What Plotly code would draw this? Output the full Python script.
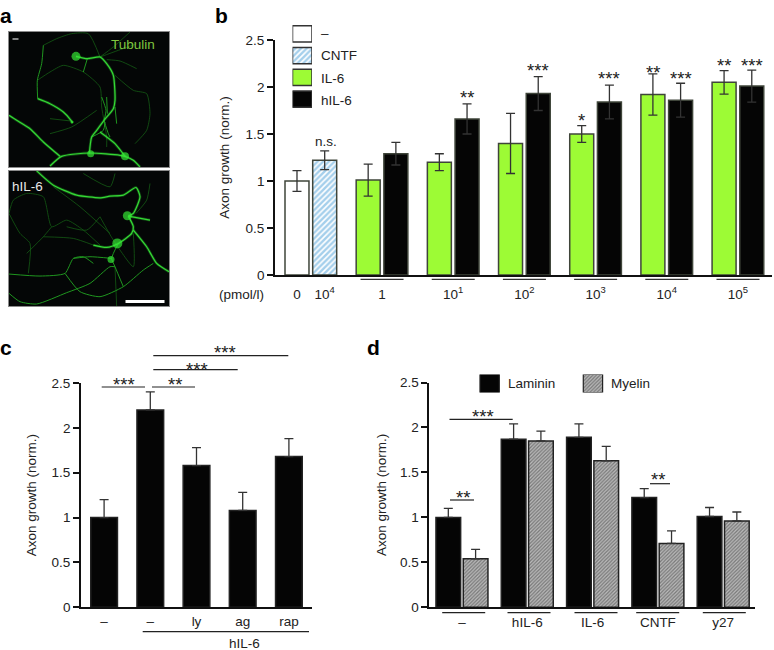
import plotly.graph_objects as go

W, H = 774, 650
FONT = "Liberation Sans"
INK = "#222222"

# ---------- panel b data ----------
b_legend = ["–", "CNTF", "IL-6", "hIL-6"]
b_single_labels = ["0", "10<sup>4</sup>"]
b_group_labels = ["1", "10<sup>1</sup>", "10<sup>2</sup>", "10<sup>3</sup>", "10<sup>4</sup>", "10<sup>5</sup>"]
b_single_vals = [1.00, 1.22]
b_single_errs = [0.11, 0.10]
b_il6_vals = [1.01, 1.20, 1.40, 1.50, 1.92, 2.05]
b_il6_errs = [0.17, 0.09, 0.32, 0.09, 0.22, 0.125]
b_hil6_vals = [1.29, 1.66, 1.93, 1.84, 1.86, 2.01]
b_hil6_errs = [0.12, 0.16, 0.18, 0.18, 0.18, 0.17]
b_il6_stars = ["", "", "", "*", "**", "**"]
b_il6_star_y = [0, 0, 0, 1.69, 2.20, 2.27]
b_hil6_stars = ["", "**", "***", "***", "***", "***"]
b_hil6_star_y = [0, 1.93, 2.22, 2.13, 2.13, 2.27]

# ---------- panel c data ----------
c_labels = ["–", "–", "ly", "ag", "rap"]
c_vals = [1.00, 2.20, 1.58, 1.08, 1.68]
c_errs = [0.20, 0.20, 0.20, 0.20, 0.20]

# ---------- panel d data ----------
d_legend = ["Laminin", "Myelin"]
d_labels = ["–", "hIL-6", "IL-6", "CNTF", "y27"]
d_laminin = [1.00, 1.87, 1.89, 1.22, 1.01]
d_laminin_err = [0.10, 0.17, 0.15, 0.10, 0.10]
d_myelin = [0.54, 1.85, 1.63, 0.71, 0.96]
d_myelin_err = [0.105, 0.11, 0.16, 0.14, 0.10]

# ---------- panel a: neurite tracings ----------
a_top_bright = [
    [(228,168),(262,175),(300,170),(320,190),(340,225),(345,300),(340,325),(312,360),(290,390),(275,410),(268,460)],
    [(150,497),(185,468),(270,458),(360,465),(375,468),(400,480),(420,500)],
    [(27,345),(50,360),(90,385),(130,425),(180,468)],
    [(113,295),(150,310),(190,335),(213,360),(218,368)],
    [(300,395),(345,430),(375,468)],
]
a_top_mid = [
    [(130,135),(125,190),(112,240),(113,295)],
    [(262,175),(250,215)],
    [(275,410),(310,390),(315,365)],
    [(312,360),(325,400),(330,410)],
    [(305,290),(318,330),(312,360)],
    [(320,290),(322,340)],
    [(345,320),(350,370)],
]
a_top_dim = [
    [(130,135),(170,115),(215,100),(265,100),(300,170)],
    [(300,170),(355,150),(410,130)],
    [(320,178),(360,182),(410,205)],
    [(112,240),(150,215),(190,195),(250,215),(300,260),(305,320),(320,410),(320,440)],
    [(345,225),(400,270),(440,280),(450,340),(440,390),(405,430)],
    [(150,400),(215,380),(290,330)],
    [(150,355),(213,362)],
    [(390,95),(340,140),(300,170)],
]
a_top_soma_x = [228, 272, 375, 216]
a_top_soma_y = [168, 460, 468, 365]
a_top_soma_size = [9, 7, 8, 3]

a_bot_bright = [
    [(110,512),(160,555),(230,585),(300,593),(330,588),(370,585),(408,562),(420,590),(400,640),(385,648)],
    [(385,648),(400,680),(395,700),(355,730),(320,742),(280,735)],
    [(385,648),(450,660)],
    [(400,690),(440,740),(470,790),(507,815)],
]
a_bot_mid = [
    [(27,880),(60,905),(110,912),(200,878),(270,850),(330,800),(345,800)],
    [(355,730),(335,775),(345,800),(370,860)],
    [(27,822),(120,828),(195,820),(220,775),(250,770),(280,790)],
    [(195,820),(240,875),(300,890),(370,860),(430,810),(460,790)],
    [(335,775),(270,770),(220,775)],
]
a_bot_dim = [
    [(27,640),(40,600),(80,580),(130,590),(155,680),(200,660),(250,690),(300,735)],
    [(27,640),(60,700),(90,730),(85,820)],
    [(130,710),(220,715),(280,735)],
    [(155,680),(130,710),(80,760)],
    [(250,520),(330,560),(345,520)],
    [(300,650),(340,720),(400,800),(400,700)],
    [(450,550),(440,600),(408,640)],
    [(160,560),(240,620),(330,700)],
    [(345,800),(350,918)],
    [(200,680),(260,690),(300,650)],
]
a_bot_soma_x = [382, 352, 333]
a_bot_soma_y = [647, 730, 778]
a_bot_soma_size = [9, 10, 7]

GREEN = "#9dfb35"
BLACK = "#050505"
EDGE = "#3f453a"
HATCH_BLUE = "#4a9fd8"


def dom_x(x0, x1):
    return [x0 / W, x1 / W]


def dom_y(top, bottom):
    return [1 - bottom / H, 1 - top / H]


def px(x):
    return x / W


def py(y):
    return 1 - y / H


fig = go.Figure()
err_style = dict(type="data", color="#333333", thickness=1.3, width=4.5)


def bar(xs, ys, errs, color, axes, width, edge=EDGE, pattern=None, symmetric=True):
    err = dict(err_style, array=errs, symmetric=symmetric)
    if not symmetric:
        err["arrayminus"] = [0] * len(errs)
    marker = dict(color=color, line=dict(color=edge, width=1.5))
    if pattern:
        marker["pattern"] = pattern
    fig.add_trace(go.Bar(x=xs, y=ys, width=width, error_y=err, marker=marker,
                         xaxis=axes[0], yaxis=axes[1], showlegend=False))


cntf_pat = dict(shape="/", fgcolor=HATCH_BLUE, bgcolor="#ffffff", size=4, solidity=0.6)
myelin_pat = dict(shape="/", fgcolor="#333333", bgcolor="#bcbcbc", size=2.5, solidity=0.5)

# panel b
BW = 0.866
group_x = [3.07 + i * 2.57 for i in range(len(b_group_labels))]
il6_x = [g - 0.5 for g in group_x]
hil6_x = [g + 0.5 for g in group_x]
bar([0], b_single_vals[:1], b_single_errs[:1], "#ffffff", ("x", "y"), BW)
bar([1], b_single_vals[1:], b_single_errs[1:], "#ffffff", ("x", "y"), BW, pattern=cntf_pat)
bar(il6_x, b_il6_vals, b_il6_errs, GREEN, ("x", "y"), BW)
bar(hil6_x, b_hil6_vals, b_hil6_errs, BLACK, ("x", "y"), BW)

# panel c
bar(list(range(5)), c_vals, c_errs, BLACK, ("x2", "y2"), 0.578, edge="#222222", symmetric=False)

# panel d
bar([i - 0.209 for i in range(5)], d_laminin, d_laminin_err, BLACK, ("x3", "y3"), 0.378, edge="#222222", symmetric=False)
bar([i + 0.209 for i in range(5)], d_myelin, d_myelin_err, "#b5b5b5", ("x3", "y3"), 0.378, edge="#222222",
    pattern=myelin_pat, symmetric=False)


def neurites(paths, color, width, axes):
    xs, ys = [], []
    for p in paths:
        xs += [q[0] for q in p] + [None]
        ys += [q[1] for q in p] + [None]
    fig.add_trace(go.Scatter(x=xs, y=ys, mode="lines", line=dict(color=color, width=width, shape="spline", smoothing=0.6),
                             xaxis=axes[0], yaxis=axes[1], showlegend=False, hoverinfo="skip"))


def somas(xs, ys, sizes, axes):
    fig.add_trace(go.Scatter(x=xs, y=ys, mode="markers", marker=dict(color="#35e535", size=sizes, line=dict(width=0)),
                             xaxis=axes[0], yaxis=axes[1], showlegend=False, hoverinfo="skip"))


for axes, dim, mid, bright, soma in [
    (("x4", "y4"), a_top_dim, a_top_mid, a_top_bright, (a_top_soma_x, a_top_soma_y, a_top_soma_size)),
    (("x5", "y5"), a_bot_dim, a_bot_mid, a_bot_bright, (a_bot_soma_x, a_bot_soma_y, a_bot_soma_size)),
]:
    neurites(dim, "#145a14", 0.8, axes)
    neurites(mid, "#1f961f", 1.0, axes)
    neurites(bright, "rgba(47,212,47,0.3)", 2.8, axes)
    neurites(bright, "#35d935", 1.2, axes)
    somas(*soma, axes)

# legend swatches (b): one bar per legend row
for name, col, pat in zip(b_legend, ["#ffffff", "#ffffff", GREEN, BLACK], [None, cntf_pat, None, None]):
    swatch = dict(color=col, line=dict(color="#333333", width=1.5))
    if pat:
        swatch["pattern"] = pat
    fig.add_trace(go.Bar(y=[name], x=[1], orientation="h", width=0.75, xaxis="x6", yaxis="y6",
                         showlegend=False, marker=swatch))
# legend swatches (d)
fig.add_trace(go.Bar(x=[0], y=[1], width=[0.187], xaxis="x7", yaxis="y7", showlegend=False,
                     marker=dict(color=BLACK, line=dict(color="#222222", width=1.2))))
fig.add_trace(go.Bar(x=[1], y=[1], width=[0.187], xaxis="x7", yaxis="y7", showlegend=False,
                     marker=dict(color="#b5b5b5", line=dict(color="#222222", width=1.2), pattern=myelin_pat)))

tick_font = dict(family=FONT, size=13.5, color=INK)
hidden = dict(visible=False, fixedrange=True)


def val_axis(dom, anchor, standoff):
    return dict(domain=dom, anchor=anchor, range=[0, 2.5], tickvals=[0, 0.5, 1, 1.5, 2, 2.5],
                ticktext=["0", "0.5", "1", "1.5", "2", "2.5"], ticks="outside", ticklen=6, tickwidth=1.5, tickcolor="#111111",
                showline=True, linecolor="#111111", linewidth=1.8, showgrid=False, zeroline=False, tickfont=tick_font,
                title=dict(text="Axon growth (norm.)", font=tick_font, standoff=standoff), automargin=False)


def cat_axis(dom, anchor, rng, vals, text, ticklen):
    return dict(domain=dom, anchor=anchor, range=rng, tickmode="array", tickvals=vals, ticktext=text, ticks="outside",
                ticklen=ticklen, tickcolor="rgba(0,0,0,0)", showline=True, linecolor="#111111", linewidth=1.8,
                showgrid=False, zeroline=False, tickfont=tick_font, automargin=False, tickangle=0)


def img_x(dom, anchor):
    return dict(domain=dom, anchor=anchor, range=[27, 507], showticklabels=False, ticks="", showgrid=False, zeroline=False,
                showline=True, mirror=True, linecolor="#8a8a8a", linewidth=1)


def img_y(dom, anchor, rng):
    return dict(domain=dom, anchor=anchor, range=rng, showticklabels=False, ticks="", showgrid=False, zeroline=False,
                showline=True, mirror=True, linecolor="#8a8a8a", linewidth=1)


layout = dict(
    width=W, height=H, margin=dict(l=0, r=0, t=0, b=0), paper_bgcolor="white", plot_bgcolor="white",
    barmode="overlay", font=dict(family=FONT, color=INK),
    xaxis=cat_axis(dom_x(275, 772), "y", [-0.794, 17.15], [0, 1] + group_x, b_single_labels + b_group_labels, 6),
    yaxis=val_axis(dom_y(40, 275), "x", 13),
    xaxis2=cat_axis(dom_x(81, 312), "y2", [-0.5, 4.5], list(range(5)), c_labels, 1),
    yaxis2=val_axis(dom_y(383, 607.3), "x2", 12),
    xaxis3=cat_axis(dom_x(429.3, 755), "y3", [-0.5, 4.487], list(range(5)), d_labels, 2),
    yaxis3=val_axis(dom_y(382.5, 607.3), "x3", 10),
    xaxis4=img_x(dom_x(9, 169), "y4"),
    yaxis4=img_y(dom_y(32, 167), "x4", [500, 95]),
    xaxis5=img_x(dom_x(9, 169), "y5"),
    yaxis5=img_y(dom_y(170.5, 306), "x5", [918, 511]),
    xaxis6=dict(domain=dom_x(292.5, 312), anchor="y6", range=[0, 1], **hidden),
    yaxis6=dict(domain=dom_y(23, 110), anchor="x6", autorange="reversed", type="category", categoryorder="array",
                categoryarray=b_legend, **hidden),
    xaxis7=dict(domain=dom_x(438, 644.6), anchor="y7", range=[-0.5, 1.5], **hidden),
    yaxis7=dict(domain=dom_y(374.5, 392.5), anchor="x7", range=[0, 1], **hidden),
)
fig.update_layout(**layout)

shapes = []
ann = []


def rule(x0, x1, y, color="#222222", width=1.2):
    shapes.append(dict(type="line", xref="paper", yref="paper", x0=px(x0), x1=px(x1), y0=py(y), y1=py(y),
                       line=dict(color=color, width=width)))


def label(x, y, text, size=13.5, color=INK, bold=False, anchor="center"):
    ann.append(dict(x=px(x), y=py(y), xref="paper", yref="paper", text=f"<b>{text}</b>" if bold else text,
                    showarrow=False, xanchor=anchor, yanchor="middle",
                    font=dict(family=FONT, size=size, color=color)))


def stars(x, y, text):
    label(x, y + 4, text, size=18.5)


# black backgrounds of the micrographs (below traces)
for top, bottom in [(32, 167), (170.5, 306)]:
    shapes.append(dict(type="rect", xref="paper", yref="paper", x0=px(9), x1=px(169), y0=py(top), y1=py(bottom),
                       fillcolor="#040606", line=dict(width=0), layer="below"))

# panel letters
label(6, 15, "a", 21, "#000000", True)
label(221, 15, "b", 21, "#000000", True)
label(6, 347, "c", 21, "#000000", True)
label(373, 347, "d", 21, "#000000", True)

# panel a texts and scale bars
label(132.5, 44, "Tubulin", 13.5, "#7fc63f")
label(27, 186, "hIL-6", 13.5, "#e8e8e8")
rule(12.5, 18.5, 39, "#dddddd", 1.2)
rule(125.5, 164.5, 301.5, "#ffffff", 3)

# panel b texts
for y_px, t in zip([34, 55.7, 78, 100], b_legend):
    label(319, y_px, t, anchor="left")
label(325.5, 141.5, "n.s.")
label(241.5, 294.5, "(pmol/l)")
x_to_px = lambda v: 297 + 27.7 * v
for x_v, y_v, s in zip(il6_x, b_il6_star_y, b_il6_stars):
    if s:
        stars(x_to_px(x_v), 275 - y_v * 94, s)
for x_v, y_v, s in zip(hil6_x, b_hil6_star_y, b_hil6_stars):
    if s:
        stars(x_to_px(x_v), 275 - y_v * 94, s)
for g in group_x:
    c = x_to_px(g)
    rule(c - 21.5, c + 21.5, 279.3, "#333333", 1.2)

# panel c texts
rule(101.7, 145, 387)
rule(152, 195, 387)
rule(153.3, 237.7, 369.7)
rule(153.3, 288.3, 355.7)
stars(124, 380, "***")
stars(175, 380, "**")
stars(196.7, 365, "***")
stars(225, 348.5, "***")
rule(142.7, 309, 631.7)
label(244.5, 643, "hIL-6")

# panel d texts
for x, t in zip([506, 609.3], d_legend):
    label(x, 383.7, t, anchor="left")
rule(449.5, 512.7, 419.3)
rule(450, 474, 500)
rule(650, 670, 483.7)
stars(483, 412, "***")
stars(463, 493.5, "**")
stars(657.7, 475.5, "**")
for c in [463.7, 529, 596, 657.7, 724.3]:
    rule(c - 21.5, c + 21.5, 612.7)

fig.update_layout(shapes=shapes, annotations=ann)
fig.update_xaxes(fixedrange=True)
fig.update_yaxes(fixedrange=True)
fig.write_html("out.html", config={"displayModeBar": False}, post_script="document.body.style.margin='0';")
